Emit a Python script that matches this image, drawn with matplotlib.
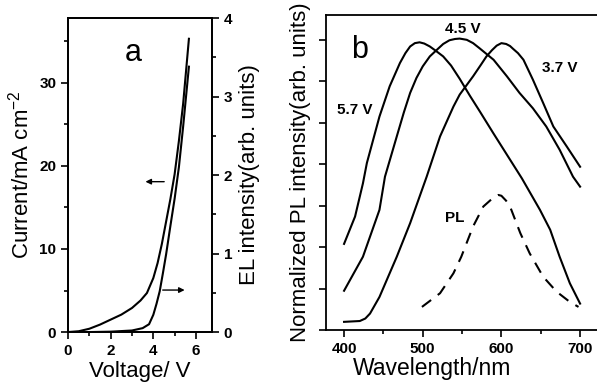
import numpy as np
import matplotlib
matplotlib.use("Agg")
import matplotlib.pyplot as plt
from matplotlib.ticker import MultipleLocator, NullFormatter

plt.rcParams['font.family'] = ['Liberation Sans', 'DejaVu Sans']
plt.rcParams['mathtext.fontset'] = 'custom'
plt.rcParams['mathtext.rm'] = 'Liberation Sans'
plt.rcParams['mathtext.it'] = 'Liberation Sans'

# panel a: J-V and EL-V
voltage_j = [0, 0.5, 1.0, 1.5, 2.0, 2.5, 3.0, 3.4, 3.7, 4.0, 4.2, 4.4, 4.6, 4.8, 5.0, 5.2, 5.4, 5.67]
current = [0, 0.1, 0.4, 0.9, 1.5, 2.1, 2.9, 3.8, 4.7, 6.5, 8.3, 10.6, 13.3, 16.0, 19.0, 23.0, 27.5, 35.3]
voltage_el = [0, 1.0, 2.0, 3.0, 3.5, 3.8, 4.0, 4.15, 4.3, 4.45, 4.6, 4.8, 5.0, 5.2, 5.4, 5.67]
el = [0, 0.0, 0.005, 0.02, 0.05, 0.1, 0.22, 0.36, 0.52, 0.75, 0.99, 1.35, 1.7, 2.1, 2.62, 3.38]

# panel b: normalized spectra
nm_57 = [400, 414, 424, 429, 445, 458, 471, 478, 484, 490, 496, 502, 509, 517, 526, 536, 547,
         560, 573, 590, 607, 626, 649, 662, 674, 687, 700]
int_57 = [2.08, 2.74, 3.54, 4.03, 5.15, 5.88, 6.44, 6.68, 6.84, 6.92, 6.94, 6.91, 6.84, 6.73, 6.6, 6.38, 6.06,
          5.65, 5.26, 4.74, 4.23, 3.66, 2.9, 2.42, 1.77, 1.13, 0.64]
nm_45 = [400, 424, 445, 452, 467, 476, 484, 492, 500, 509, 518, 526, 534, 541, 547, 556, 564,
         572, 590, 607, 623, 640, 657, 674, 691, 700]
int_45 = [0.95, 1.77, 2.9, 3.7, 4.67, 5.25, 5.72, 6.08, 6.36, 6.6, 6.76, 6.9, 6.99, 7.02, 7.03, 7.0, 6.92,
          6.8, 6.52, 6.12, 5.72, 5.35, 4.91, 4.35, 3.7, 3.46]
nm_37 = [400, 420, 427, 433, 445, 467, 484, 496, 505, 522, 539, 547, 564, 574, 581, 588, 594, 600,
         606, 611, 615, 621, 628, 640, 653, 666, 683, 700]
int_37 = [0.2, 0.22, 0.28, 0.4, 0.8, 1.77, 2.58, 3.22, 3.7, 4.67, 5.39, 5.68, 6.12, 6.4, 6.6, 6.75, 6.86, 6.92,
          6.9, 6.85, 6.78, 6.68, 6.52, 6.04, 5.48, 4.91, 4.43, 3.94]
nm_pl = [499, 522, 539, 549, 564, 577, 590, 596, 600, 606, 611, 624, 636, 653, 670, 687, 698]
int_pl = [0.56, 0.89, 1.37, 1.77, 2.5, 2.98, 3.2, 3.26, 3.24, 3.12, 2.98, 2.34, 1.85, 1.29, 0.93, 0.68, 0.56]

tick_font = dict(fontsize=11, fontweight='bold')
lw = 1.5

fig = plt.figure(figsize=(5.97, 3.83), dpi=100)

# ---- panel a ----
ax = fig.add_axes([0.114, 0.133, 0.241, 0.820])
ax.plot(voltage_j, current, color='black', lw=lw)
ax.set_xlim(0, 6.75)
ax.set_ylim(0, 37.8)
ax.xaxis.set_major_locator(MultipleLocator(2))
ax.xaxis.set_minor_locator(MultipleLocator(1))
ax.yaxis.set_major_locator(MultipleLocator(10))
ax.yaxis.set_minor_locator(MultipleLocator(5))
ax.tick_params(which='both', direction='out', width=1.2, labelsize=11)
ax.tick_params(which='major', length=5)
ax.tick_params(which='minor', length=3)
for lab in ax.get_xticklabels() + ax.get_yticklabels():
    lab.set_fontweight('bold')
ax.set_xlabel('Voltage/ V', fontsize=16, labelpad=2)
ax.set_ylabel(r'Current/mA cm$^{-2}$', fontsize=16, labelpad=4)
ax.text(3.05, 33.6, 'a', fontsize=22, ha='center', va='center')
ax.annotate('', xy=(3.5, 18.1), xytext=(4.64, 18.1),
            arrowprops=dict(arrowstyle='-|>', color='black', lw=1.0, mutation_scale=8))
for s in ax.spines.values():
    s.set_linewidth(1.3)

ax2 = ax.twinx()
ax2.plot(voltage_el, el, color='black', lw=lw)
ax2.set_ylim(0, 4)
ax2.yaxis.set_major_locator(MultipleLocator(1))
ax2.yaxis.set_minor_locator(MultipleLocator(0.5))
ax2.tick_params(which='both', direction='out', width=1.2, labelsize=11)
ax2.tick_params(which='major', length=5)
ax2.tick_params(which='minor', length=3)
for lab in ax2.get_yticklabels():
    lab.set_fontweight('bold')
ax2.set_ylabel('EL intensity(arb. units)', fontsize=16, labelpad=5)
ax2.annotate('', xy=(5.6, 0.535), xytext=(4.31, 0.535),
             arrowprops=dict(arrowstyle='-|>', color='black', lw=1.0, mutation_scale=8))
for s in ax2.spines.values():
    s.set_linewidth(1.3)

# ---- panel b ----
bx = fig.add_axes([0.546, 0.138, 0.454, 0.823])
bx.plot(nm_57, int_57, color='black', lw=lw)
bx.plot(nm_45, int_45, color='black', lw=lw)
bx.plot(nm_37, int_37, color='black', lw=lw)
bx.plot(nm_pl, int_pl, color='black', lw=lw, linestyle=(0, (5.5, 4)))
bx.set_xlim(377, 721.5)
bx.set_ylim(0, 7.6)
bx.xaxis.set_major_locator(MultipleLocator(100))
bx.xaxis.set_minor_locator(MultipleLocator(50))
bx.yaxis.set_major_locator(MultipleLocator(1))
bx.yaxis.set_major_formatter(NullFormatter())
bx.tick_params(which='both', direction='out', width=1.2, labelsize=11)
bx.tick_params(which='major', length=5)
bx.tick_params(which='minor', length=3)
for lab in bx.get_xticklabels():
    lab.set_fontweight('bold')
bx.spines['right'].set_visible(False)
for s in bx.spines.values():
    s.set_linewidth(1.3)
bx.set_xlabel('Wavelength/nm', fontsize=16.5)
bx.xaxis.set_label_coords(0.39, -0.085)
bx.set_ylabel('Normalized PL intensity(arb. units)', fontsize=16, labelpad=2)
bx.text(420, 6.76, 'b', fontsize=22, ha='center', va='center')
bx.text(551, 7.25, '4.5 V', ha='center', va='center', **tick_font)
bx.text(674, 6.33, '3.7 V', ha='center', va='center', **tick_font)
bx.text(413.6, 5.31, '5.7 V', ha='center', va='center', **tick_font)
bx.text(541, 2.7, 'PL', ha='center', va='center', **tick_font)

fig.savefig('out.png', dpi=100)
